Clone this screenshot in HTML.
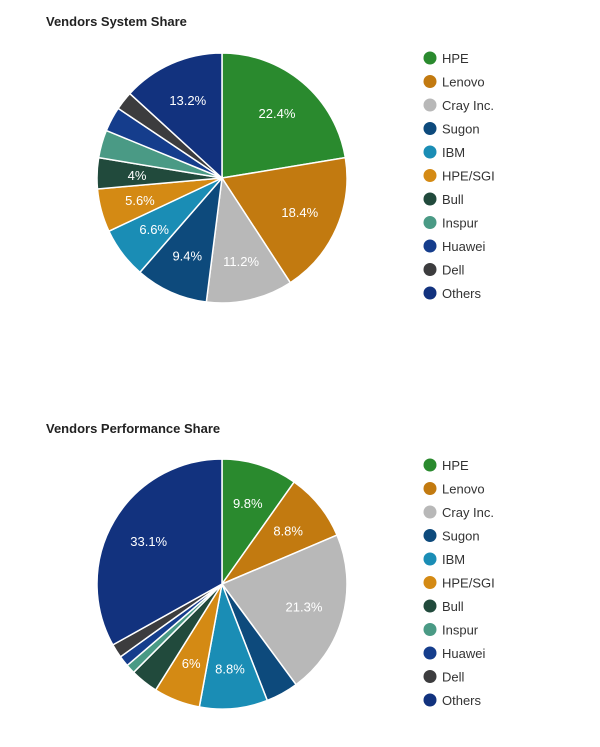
<!DOCTYPE html>
<html><head><meta charset="utf-8"><style>
body{margin:0;background:#fff;font-family:"Liberation Sans",sans-serif}
svg{display:block}
</style></head><body>
<svg width="600" height="747">
<text x="46" y="26" font-size="13" font-weight="bold" fill="#222">Vendors System Share</text>
<text x="46" y="433" font-size="13" font-weight="bold" fill="#222">Vendors Performance Share</text>
<g id="pie1"></g><g id="pie2"></g><g id="leg1"></g><g id="leg2"></g>
</svg>
<script>
const vendors=["HPE","Lenovo","Cray Inc.","Sugon","IBM","HPE/SGI","Bull","Inspur","Huawei","Dell","Others"];
const colors=["#2a8a2e","#c27a10","#b8b8b8","#0d4a7c","#1a8db5","#d48a14","#214a3c","#4a9a85","#153d8c","#3c3c3e","#12327e"];
const systemShare=[22.4,18.4,11.2,9.4,6.6,5.6,4,3.6,3.2,2.4,13.2];
const systemLabels=["22.4%","18.4%","11.2%","9.4%","6.6%","5.6%","4%","","","","13.2%"];
const perfShare=[9.8,8.8,21.3,4.2,8.8,6,3.6,1.2,1.4,1.8,33.1];
const perfLabels=["9.8%","8.8%","21.3%","","8.8%","6%","","","","","33.1%"];
const NS="http://www.w3.org/2000/svg";
function mk(t,a){const e=document.createElementNS(NS,t);for(const k in a)e.setAttribute(k,a[k]);return e;}
function pie(gid,vals,labels,cx,cy,r,name){
  const g=document.getElementById(gid);
  const tot=vals.reduce((a,b)=>a+b,0);
  let a0=-Math.PI/2;
  vals.forEach((v,i)=>{
    const a1=a0+v/tot*2*Math.PI;
    const x0=cx+r*Math.cos(a0),y0=cy+r*Math.sin(a0),x1=cx+r*Math.cos(a1),y1=cy+r*Math.sin(a1);
    const p=mk("path",{d:`M${cx},${cy}L${x0},${y0}A${r},${r} 0 ${a1-a0>Math.PI?1:0} 1 ${x1},${y1}Z`,fill:colors[i],stroke:"#fff","stroke-width":"1.5"});
    
    
    g.appendChild(p);
    if(labels[i]){
      const am=(a0+a1)/2,lr=r*0.68;
      const t=mk("text",{x:cx+lr*Math.cos(am),y:cy+lr*Math.sin(am)+5,"text-anchor":"middle","font-size":"13",fill:"#fff"});
      t.textContent=labels[i];
      
      
      g.appendChild(t);
    }
    a0=a1;
  });
}
function legend(gid,y0,name){
  const g=document.getElementById(gid);
  vendors.forEach((v,i)=>{
    const y=y0+i*23.5;
    const c=mk("circle",{cx:430,cy:y,r:6.5,fill:colors[i]});
    
    
    g.appendChild(c);
    const t=mk("text",{x:442,y:y+5,"font-size":"13",fill:"#333"});
    t.textContent=v;
    
    
    g.appendChild(t);
  });
}
pie("pie1",systemShare,systemLabels,222,178,125,"system");
pie("pie2",perfShare,perfLabels,222,584,125,"performance");
legend("leg1",58,"system");
legend("leg2",465,"performance");
</script>
</body></html>
